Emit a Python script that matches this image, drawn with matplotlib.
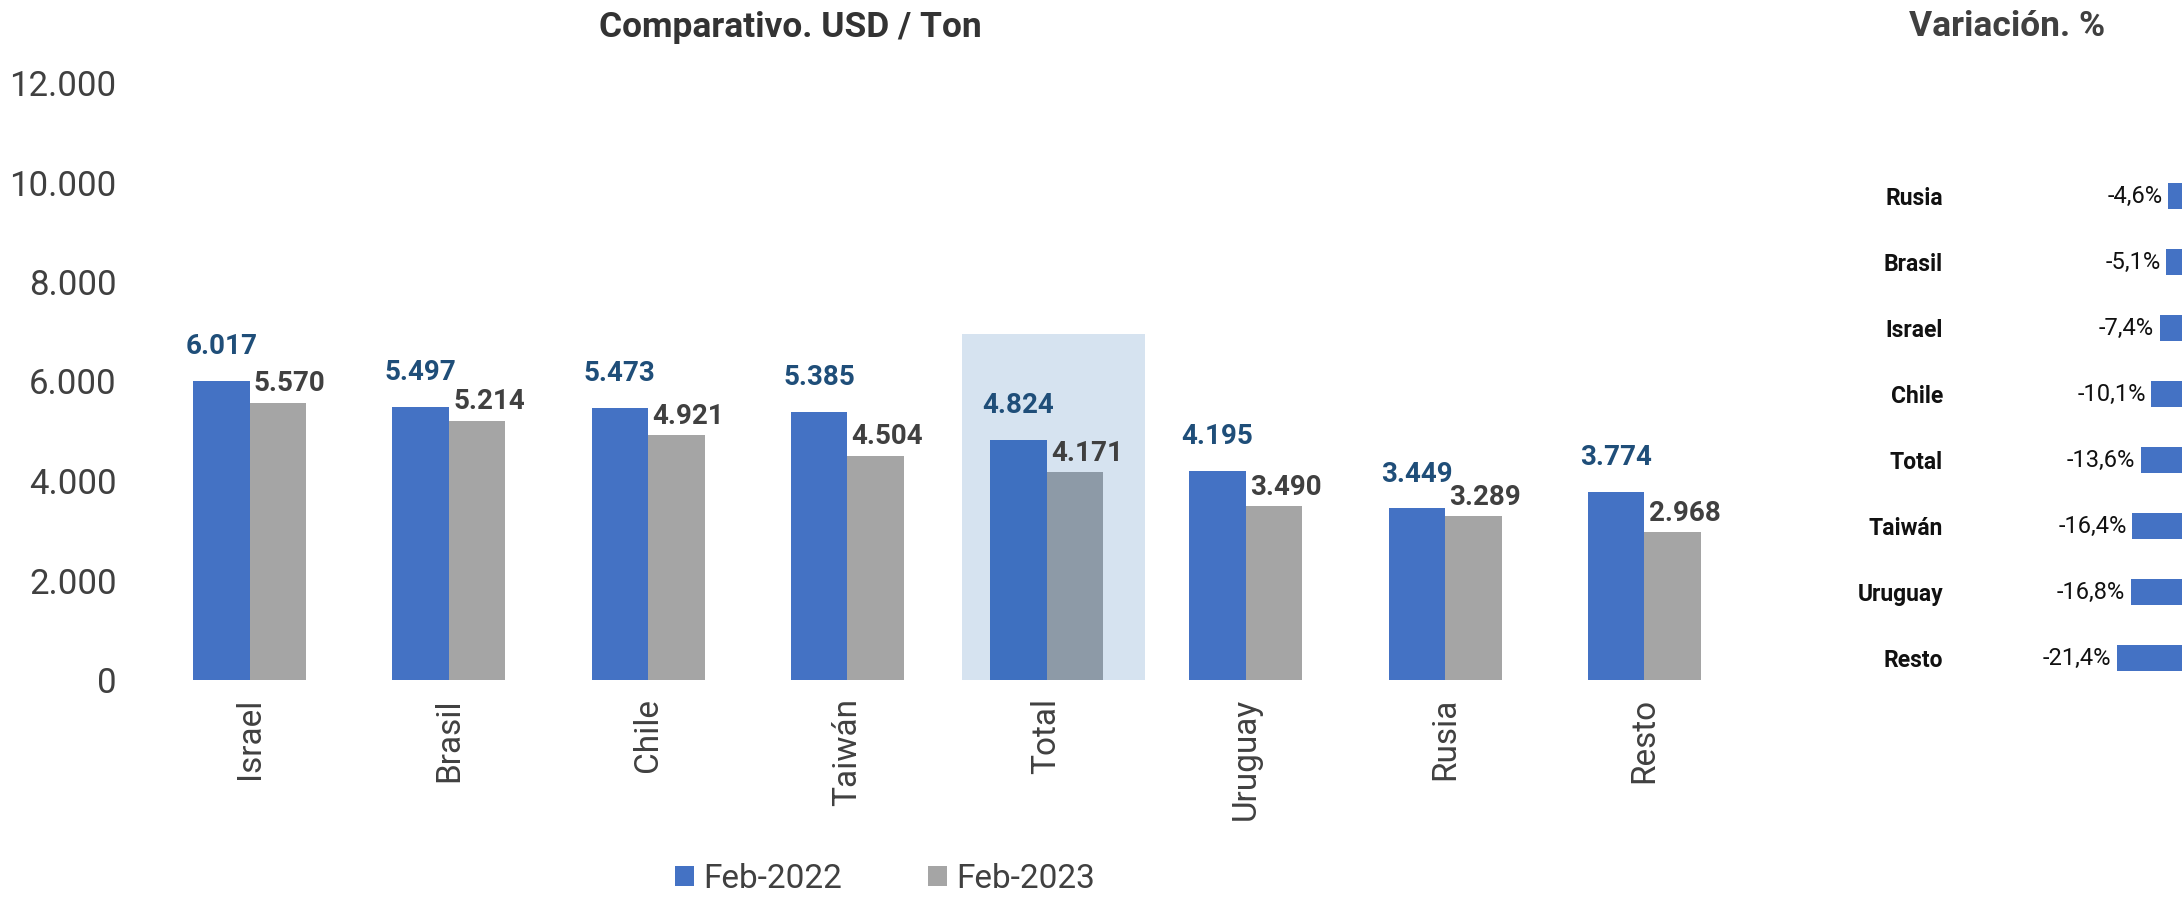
import matplotlib
matplotlib.use('Agg')
import matplotlib.pyplot as plt
import numpy as np

# datos: precio USD / Ton por pais
paises = ['Israel', 'Brasil', 'Chile', 'Taiwán', 'Total', 'Uruguay', 'Rusia', 'Resto']
feb_2022 = [6017, 5497, 5473, 5385, 4824, 4195, 3449, 3774]
feb_2023 = [5570, 5214, 4921, 4504, 4171, 3490, 3289, 2968]

# variacion %, ordenada de menor a mayor caida
paises_var = ['Rusia', 'Brasil', 'Israel', 'Chile', 'Total', 'Taiwán', 'Uruguay', 'Resto']
variacion = [-4.6, -5.1, -7.4, -10.1, -13.6, -16.4, -16.8, -21.4]

AZUL = '#4472C4'
GRIS = '#A5A5A5'
TXT = '#404040'
FUENTE = 'Roboto'
W, H = 2182, 899

def miles(v):
    return f"{v:,.0f}".replace(',', '.')

fig = plt.figure(figsize=(W / 100, H / 100), dpi=100)

# grafico principal
ax = fig.add_axes([150 / W, 1 - 680 / H, (1744 - 150) / W, (680 - 83) / H])
x = np.arange(len(paises))
w = 0.284
b1 = ax.bar(x - w / 2, feb_2022, w, color=AZUL, label='Feb-2022', zorder=2)
b2 = ax.bar(x + w / 2, feb_2023, w, color=GRIS, label='Feb-2023', zorder=2)

# caja resaltando el Total
i_tot = paises.index('Total')
ax.bar(i_tot + 0.035, 6950, width=0.92, color=(39 / 255, 107 / 255, 176 / 255),
       alpha=0.19, zorder=3, linewidth=0)

for xi, v in zip(x, feb_2022):
    ax.annotate(miles(v), (xi - w / 2, v), xytext=(0, 15), textcoords='offset points',
                ha='center', va='bottom', fontsize=20, fontweight='bold',
                color='#1F4E79', family=FUENTE, zorder=5)
for xi, v in zip(x, feb_2023):
    ax.annotate(miles(v), (xi, v), xytext=(3, 4), textcoords='offset points',
                ha='left', va='bottom', fontsize=20, fontweight='bold',
                color=TXT, family=FUENTE, zorder=5)

ax.set_xlim(-0.5, len(paises) - 0.5)
ax.set_ylim(0, 12000)
ax.set_yticks(range(0, 12001, 2000))
ax.set_yticklabels([miles(v) for v in range(0, 12001, 2000)], fontsize=25,
                   color=TXT, family=FUENTE)
ax.set_xticks(x)
ax.set_xticklabels(paises, rotation=90, fontsize=24, color=TXT, family=FUENTE)
ax.tick_params(axis='y', length=0, pad=24)
ax.tick_params(axis='x', length=0, pad=13)
for s in ax.spines.values():
    s.set_visible(False)

fig.text(790 / W, 1 - 28 / H, 'Comparativo. USD / Ton', ha='center', va='center',
         fontsize=25.5, fontweight='bold', color='#333333', family=FUENTE)

fig.legend(handles=[b1, b2], loc='center', bbox_to_anchor=(885 / W, 1 - 879 / H),
           ncol=2, frameon=False, handlelength=0.57, handleheight=0.57,
           handletextpad=0.27, columnspacing=2.6,
           prop={'family': FUENTE, 'size': 24}, labelcolor=TXT)

# panel de variacion
ax2 = fig.add_axes([2050 / W, 1 - 691 / H, 132 / W, (691 - 163) / H])
y = np.arange(len(paises_var))
ax2.barh(y, variacion, height=0.39, color=AZUL)
ax2.set_xlim(-132 / 3.04, 0)
ax2.set_ylim(len(paises_var) - 0.5, -0.5)
ax2.set_yticks(y)
ax2.set_yticklabels(paises_var, fontsize=16.5, fontweight='bold', color='#111111',
                    family=FUENTE)
ax2.tick_params(axis='y', length=0, pad=77)
ax2.set_xticks([])
for s in ax2.spines.values():
    s.set_visible(False)
for yi, v in zip(y, variacion):
    ax2.annotate(f"{v:.1f}".replace('.', ',') + '%', (v, yi), xytext=(-4, 0),
                 textcoords='offset points', ha='right', va='center',
                 fontsize=17, color='#111111', family=FUENTE)

fig.text(2007 / W, 1 - 27 / H, 'Variación. %', ha='center', va='center',
         fontsize=25.5, fontweight='bold', color=TXT, family=FUENTE)

fig.savefig('out.png', dpi=100)
